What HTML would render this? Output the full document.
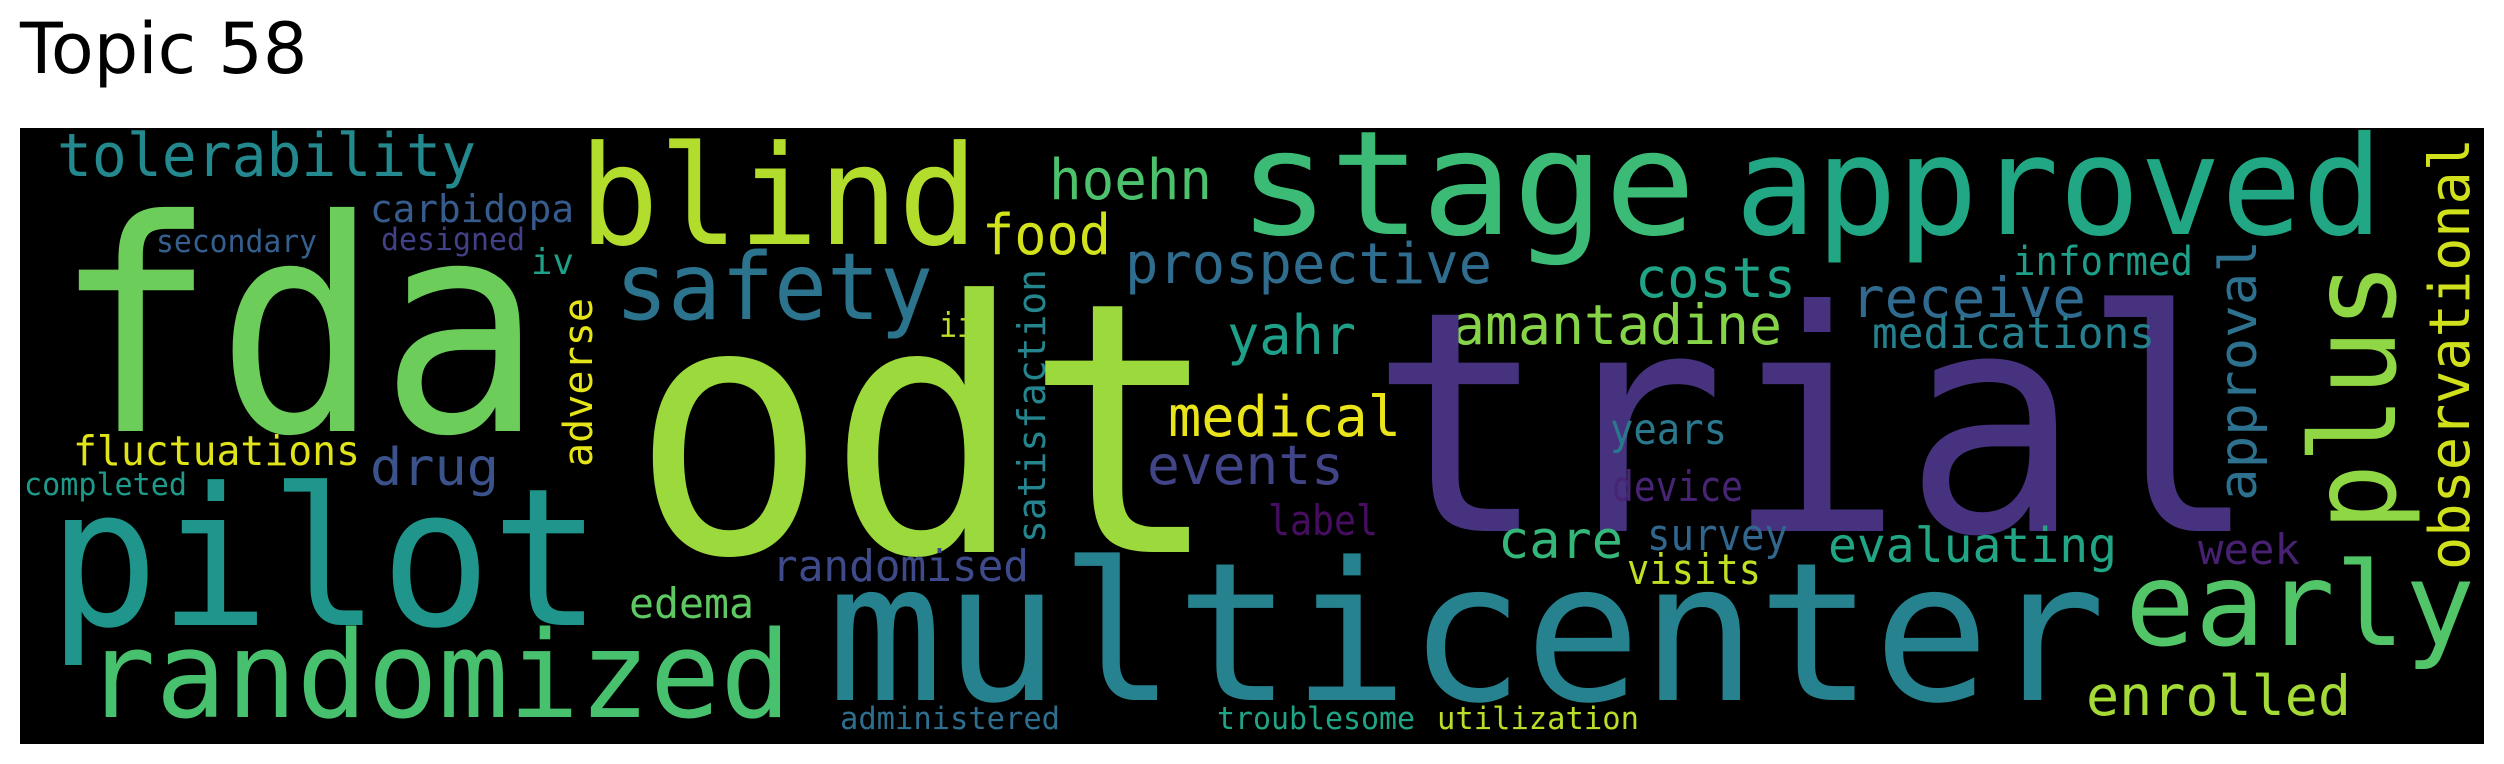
<!DOCTYPE html>
<html><head><meta charset="utf-8"><style>
html,body{margin:0;padding:0;background:#fff;}
svg{display:block;}
text{font-family:"DejaVu Sans Mono","Liberation Mono",monospace;}
</style></head><body>
<svg width="2504" height="764" viewBox="0 0 2504 764">
<text x="20" y="73" font-size="70" style="font-family:'DejaVu Sans','Liberation Sans',sans-serif" fill="#000">Topic 58</text>
<rect x="20" y="128" width="2464" height="616" fill="#000"/>
<g>
<text x="57" y="176" font-size="60" textLength="419" lengthAdjust="spacingAndGlyphs" fill="#23898e">tolerability</text>
<text x="53" y="431" font-size="295" textLength="490" lengthAdjust="spacingAndGlyphs" fill="#6ccd5a">fda</text>
<text x="370" y="222" font-size="38" textLength="204" lengthAdjust="spacingAndGlyphs" fill="#365c8d">carbidopa</text>
<text x="156" y="252" font-size="31" textLength="161" lengthAdjust="spacingAndGlyphs" fill="#355f8d">secondary</text>
<text x="381" y="250" font-size="31" textLength="144" lengthAdjust="spacingAndGlyphs" fill="#424086">designed</text>
<text x="531" y="274" font-size="36" textLength="43" lengthAdjust="spacingAndGlyphs" fill="#1fa088">iv</text>
<text x="73" y="465" font-size="41" textLength="287" lengthAdjust="spacingAndGlyphs" fill="#dfe318">fluctuations</text>
<text x="370" y="485" font-size="52" textLength="129" lengthAdjust="spacingAndGlyphs" fill="#3b528b">drug</text>
<text x="24" y="495" font-size="31" textLength="163" lengthAdjust="spacingAndGlyphs" fill="#1f9a8a">completed</text>
<text x="48" y="625" font-size="192" textLength="554" lengthAdjust="spacingAndGlyphs" fill="#1f958b">pilot</text>
<text x="85" y="717" font-size="120" textLength="706" lengthAdjust="spacingAndGlyphs" fill="#48c16e">randomized</text>
<text x="579" y="244" font-size="138" textLength="399" lengthAdjust="spacingAndGlyphs" fill="#b2dd2d">blind</text>
<text x="1049" y="199" font-size="56" textLength="163" lengthAdjust="spacingAndGlyphs" fill="#4cc26c">hoehn</text>
<text x="982" y="254" font-size="56" textLength="129" lengthAdjust="spacingAndGlyphs" fill="#d2e21b">food</text>
<text x="615" y="319" font-size="93" textLength="318" lengthAdjust="spacingAndGlyphs" fill="#2c738e">safety</text>
<text x="939" y="337" font-size="34" textLength="36" lengthAdjust="spacingAndGlyphs" fill="#bddf26">ii</text>
<text transform="translate(592,467) rotate(-90)" font-size="40" textLength="169" lengthAdjust="spacingAndGlyphs" fill="#e5e419">adverse</text>
<text transform="translate(1045,543) rotate(-90)" font-size="38" textLength="274" lengthAdjust="spacingAndGlyphs" fill="#25858e">satisfaction</text>
<text x="631" y="552" font-size="350" textLength="590" lengthAdjust="spacingAndGlyphs" fill="#9bd93c">odt</text>
<text x="772" y="581" font-size="44" textLength="257" lengthAdjust="spacingAndGlyphs" fill="#3e4a89">randomised</text>
<text x="629" y="618" font-size="42" textLength="125" lengthAdjust="spacingAndGlyphs" fill="#5ec962">edema</text>
<text x="827" y="700" font-size="193" textLength="1279" lengthAdjust="spacingAndGlyphs" fill="#26828e">multicenter</text>
<text x="840" y="729" font-size="31" textLength="220" lengthAdjust="spacingAndGlyphs" fill="#2e6e8e">administered</text>
<text x="1125" y="283" font-size="56" textLength="367" lengthAdjust="spacingAndGlyphs" fill="#2f6c8e">prospective</text>
<text x="1227" y="354" font-size="54" textLength="129" lengthAdjust="spacingAndGlyphs" fill="#1fa088">yahr</text>
<text x="1168" y="436" font-size="56" textLength="233" lengthAdjust="spacingAndGlyphs" fill="#eae51a">medical</text>
<text x="1147" y="484" font-size="54" textLength="197" lengthAdjust="spacingAndGlyphs" fill="#414487">events</text>
<text x="1238" y="234" font-size="145" textLength="458" lengthAdjust="spacingAndGlyphs" fill="#3bbb75">stage</text>
<text x="1735" y="234" font-size="137" textLength="648" lengthAdjust="spacingAndGlyphs" fill="#22a785">approved</text>
<text x="1635" y="297" font-size="55" textLength="161" lengthAdjust="spacingAndGlyphs" fill="#20a386">costs</text>
<text x="1452" y="344" font-size="55" textLength="330" lengthAdjust="spacingAndGlyphs" fill="#86d549">amantadine</text>
<text x="1370" y="531" font-size="308" textLength="889" lengthAdjust="spacingAndGlyphs" fill="#46327e">trial</text>
<text x="1610" y="444" font-size="43" textLength="117" lengthAdjust="spacingAndGlyphs" fill="#2a788e">years</text>
<text x="1612" y="501" font-size="42" textLength="131" lengthAdjust="spacingAndGlyphs" fill="#482475">device</text>
<text x="1268" y="535" font-size="42" textLength="110" lengthAdjust="spacingAndGlyphs" fill="#470d60">label</text>
<text x="1498" y="558" font-size="52" textLength="125" lengthAdjust="spacingAndGlyphs" fill="#35b779">care</text>
<text x="1647" y="550" font-size="44" textLength="141" lengthAdjust="spacingAndGlyphs" fill="#31678e">survey</text>
<text x="1627" y="584" font-size="42" textLength="134" lengthAdjust="spacingAndGlyphs" fill="#c2df23">visits</text>
<text x="1217" y="729" font-size="31" textLength="198" lengthAdjust="spacingAndGlyphs" fill="#20a486">troublesome</text>
<text x="1437" y="729" font-size="31" textLength="202" lengthAdjust="spacingAndGlyphs" fill="#b8de29">utilization</text>
<text x="1851" y="317" font-size="55" textLength="235" lengthAdjust="spacingAndGlyphs" fill="#306a8e">receive</text>
<text x="2013" y="275" font-size="40" textLength="180" lengthAdjust="spacingAndGlyphs" fill="#1f9e89">informed</text>
<text x="1872" y="348" font-size="43" textLength="283" lengthAdjust="spacingAndGlyphs" fill="#27808e">medications</text>
<text transform="translate(2256,501) rotate(-90)" font-size="52" textLength="261" lengthAdjust="spacingAndGlyphs" fill="#2d718e">approval</text>
<text transform="translate(2395,531) rotate(-90)" font-size="118" textLength="269" lengthAdjust="spacingAndGlyphs" fill="#8fd744">plus</text>
<text transform="translate(2469,570) rotate(-90)" font-size="56" textLength="432" lengthAdjust="spacingAndGlyphs" fill="#d0e11c">observational</text>
<text x="2125" y="645" font-size="116" textLength="350" lengthAdjust="spacingAndGlyphs" fill="#52c569">early</text>
<text x="1828" y="562" font-size="48" textLength="289" lengthAdjust="spacingAndGlyphs" fill="#21a585">evaluating</text>
<text x="2198" y="564" font-size="42" textLength="102" lengthAdjust="spacingAndGlyphs" fill="#482173">week</text>
<text x="2086" y="715" font-size="55" textLength="265" lengthAdjust="spacingAndGlyphs" fill="#a5db36">enrolled</text>
</g>
</svg>
</body></html>
